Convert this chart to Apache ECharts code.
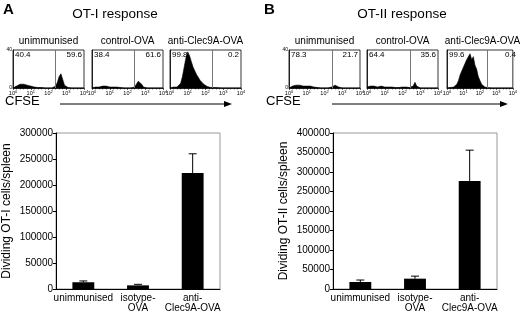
<!DOCTYPE html>
<html>
<head>
<meta charset="utf-8">
<script src="https://cdn.jsdelivr.net/npm/echarts@6/dist/echarts.min.js"></script>
<style>
  html, body { margin: 0; padding: 0; background: #fff; }
  #chart { width: 520px; height: 313px; }
</style>
</head>
<body>
<div id="chart"></div>
<script>
// bar charts
const groups = ['unimmunised', 'isotype-\nOVA', 'anti-\nClec9A-OVA']
const otiMean = [13000, 7000, 223000]
const otiErrTop = [15500, 9000, 260000]
const otiiMean = [18000, 26500, 277000]
const otiiErrTop = [23000, 33000, 356000]
const otiTicks = [0, 50000, 100000, 150000, 200000, 250000, 300000]
const otiiTicks = [0, 50000, 100000, 150000, 200000, 250000, 300000, 350000, 400000]

// CFSE histograms
const histTitles = ['unimmunised', 'control-OVA', 'anti-Clec9A-OVA']
const otiPctLeft = ['40.4', '38.4', '99.8']
const otiPctRight = ['59.6', '61.6', '0.2']
const otiiPctLeft = ['78.3', '64.4', '99.6']
const otiiPctRight = ['21.7', '35.6', '0.4']
const logTicks = [0, 1, 2, 3, 4]
const gateOti = 2.4
const gateOtii = 2.45
// event counts, one per 0.1 decade from 10^0 to 10^4
const histA1 = [0, 1, 2, 3, 4, 3, 4, 3, 3, 2, 2, 1, 1, 1, 0.5, 0.5, 0.5, 0, 0, 0, 0, 0, 0, 0.5, 2, 6, 12, 15, 9, 3, 1, 0.5, 0, 0, 0, 0, 0, 0, 0, 0, 0]
const histA2 = [0, 1, 1, 2, 1, 2, 2, 1, 2, 1, 1, 1, 1, 0.5, 1, 0.5, 0.5, 0, 0, 0, 0, 0, 0, 0.5, 1, 4, 7, 8, 4, 1, 0.5, 0, 0, 0, 0, 0, 0, 0, 0, 0, 0]
const histA3 = [0, 0.5, 1, 1, 1, 2, 5, 12, 22, 32, 38, 34, 28, 22, 18, 14, 11, 8, 6, 4, 2, 1.5, 1, 0.5, 0.5, 0.5, 0.3, 0.3, 0, 0, 0, 0, 0, 0, 0, 0, 0, 0, 0, 0, 0]
const histB1 = [0, 1, 2, 2, 3, 2, 3, 2, 2, 3, 2, 1, 2, 1, 1, 0.5, 0.5, 0, 0, 0, 0, 0, 0, 0.5, 1, 2, 3, 2, 1, 0.5, 0, 0, 0, 0, 0, 0, 0, 0, 0, 0, 0]
const histB2 = [1, 1, 2, 1, 2, 2, 1, 2, 2, 1, 1, 2, 1, 1, 1, 0.5, 0.5, 0.5, 0.5, 1, 1, 0.5, 1, 0.5, 0.5, 1, 2, 6, 2, 0.5, 0, 0, 0, 0, 0, 0, 0, 0, 0, 0, 0]
const histB3 = [0, 0.5, 0.5, 1, 1, 2, 4, 8, 14, 18, 22, 26, 30, 28, 36, 30, 33, 24, 20, 12, 8, 4, 2, 1, 0.5, 0.3, 0.3, 0, 0, 0, 0, 0, 0, 0, 0, 0, 0, 0, 0, 0, 0]

const font = 'Liberation Sans, Arial, sans-serif'

const histPanels = [
  { data: histA1, left: 13, gate: gateOti, pl: otiPctLeft[0], pr: otiPctRight[0], first: true },
  { data: histA2, left: 92, gate: gateOti, pl: otiPctLeft[1], pr: otiPctRight[1] },
  { data: histA3, left: 170, gate: gateOti, pl: otiPctLeft[2], pr: otiPctRight[2] },
  { data: histB1, left: 289, gate: gateOtii, pl: otiiPctLeft[0], pr: otiiPctRight[0], first: true },
  { data: histB2, left: 367, gate: gateOtii, pl: otiiPctLeft[1], pr: otiiPctRight[1] },
  { data: histB3, left: 447, gate: gateOtii, pl: otiiPctLeft[2], pr: otiiPctRight[2] }
]
const histTop = 50
const histW = 71
const histH = 38

const grids = []
const xAxes = []
const yAxes = []
const series = []
const graphics = []

histPanels.forEach((p, i) => {
  grids.push({
    left: p.left, top: histTop, width: histW, height: histH,
    show: true, borderColor: '#000', borderWidth: 0.8
  })
  xAxes.push({
    gridIndex: i, type: 'value', min: logTicks[0], max: logTicks[logTicks.length - 1], interval: 1,
    axisLine: { lineStyle: { color: '#000', width: 0.8 } },
    axisTick: { length: 2, lineStyle: { color: '#000', width: 0.6 } },
    minorTick: { show: true, splitNumber: 5, length: 1.5, lineStyle: { color: '#000', width: 0.5 } },
    splitLine: { show: false },
    axisLabel: {
      margin: 2, showMinLabel: true, showMaxLabel: true, hideOverlap: false,
      formatter: v => '{b|10}{s|' + v + '}',
      rich: {
        b: { fontSize: 5.5, fontFamily: font, color: '#000' },
        s: { fontSize: 4, fontFamily: font, color: '#000', verticalAlign: 'top', padding: [0, 0, 3, 0] }
      }
    }
  })
  yAxes.push({
    gridIndex: i, type: 'value', min: 0, max: 40, interval: 40,
    axisLine: { show: true, lineStyle: { color: '#000', width: 0.8 } },
    axisTick: { show: false },
    splitLine: { show: false },
    axisLabel: { show: !!p.first, fontSize: 5, margin: 1, color: '#000', fontFamily: font }
  })
  series.push({
    type: 'line', xAxisIndex: i, yAxisIndex: i,
    data: p.data.map((v, k) => [k / 10, v]),
    symbol: 'none', silent: true,
    lineStyle: { color: '#000', width: 0.6 },
    areaStyle: { color: '#000', opacity: 1 },
    markLine: {
      silent: true, symbol: 'none', label: { show: false },
      lineStyle: { color: '#777', width: 1, type: 'solid' },
      data: [{ xAxis: p.gate }]
    }
  })
  graphics.push(
    { type: 'text', x: p.left + histW / 2, y: 36,
      style: { text: histTitles[i % 3], fontSize: 10, fontFamily: font, fill: '#000', textAlign: 'center' } },
    { type: 'text', x: p.left + 2, y: histTop + 1,
      style: { text: p.pl, fontSize: 8, fontFamily: font, fill: '#000' } },
    { type: 'text', x: p.left + histW - 2, y: histTop + 1,
      style: { text: p.pr, fontSize: 8, fontFamily: font, fill: '#000', textAlign: 'right' } }
  )
})

const barPanels = [
  { left: 55, width: 165, mean: otiMean, err: otiErrTop, ticks: otiTicks, name: 'Dividing OT-I cells/spleen' },
  { left: 333, width: 164, mean: otiiMean, err: otiiErrTop, ticks: otiiTicks, name: 'Dividing OT-II cells/spleen' }
]

barPanels.forEach((p, j) => {
  const gi = 6 + j
  grids.push({
    left: p.left, top: 133, width: p.width, height: 156,
    show: true, borderColor: '#999', borderWidth: 1
  })
  xAxes.push({
    gridIndex: gi, type: 'category', data: groups,
    axisLine: { lineStyle: { color: '#000', width: 1 } },
    axisTick: { length: 3, lineStyle: { color: '#000' } },
    axisLabel: { interval: 0, fontSize: 10, lineHeight: 10, margin: 4, color: '#000', fontFamily: font }
  })
  yAxes.push({
    gridIndex: gi, type: 'value', min: p.ticks[0], max: p.ticks[p.ticks.length - 1],
    interval: p.ticks[1] - p.ticks[0],
    name: p.name, nameLocation: 'middle', nameGap: 43,
    nameTextStyle: { fontSize: 12, fontFamily: font, color: '#000' },
    axisLine: { show: true, lineStyle: { color: '#000', width: 1 } },
    axisTick: { show: true, length: 3, lineStyle: { color: '#000' } },
    splitLine: { show: false },
    axisLabel: { fontSize: 10, margin: 3, color: '#000', fontFamily: font, formatter: v => String(v) }
  })
  series.push({
    type: 'bar', xAxisIndex: gi, yAxisIndex: gi, data: p.mean,
    barWidth: '40%', itemStyle: { color: '#000' }, silent: true
  })
  series.push({
    type: 'custom', xAxisIndex: gi, yAxisIndex: gi, silent: true,
    data: p.mean.map((m, k) => [k, m, p.err[k]]),
    renderItem: (params, api) => {
      const base = api.coord([api.value(0), api.value(1)])
      const top = api.coord([api.value(0), api.value(2)])
      const st = { stroke: '#000', lineWidth: 1 }
      return {
        type: 'group',
        children: [
          { type: 'line', shape: { x1: base[0], y1: base[1], x2: top[0], y2: top[1] }, style: st },
          { type: 'line', shape: { x1: top[0] - 4, y1: top[1], x2: top[0] + 4, y2: top[1] }, style: st }
        ]
      }
    }
  })
})

// panel letters, titles, CFSE arrows
const headers = [
  { letter: 'A', lx: 3, title: 'OT-I response', tx: 115, ax1: 60, ax2: 232 },
  { letter: 'B', lx: 264, title: 'OT-II response', tx: 402, ax1: 332, ax2: 508 }
]
headers.forEach(h => {
  graphics.push(
    { type: 'text', x: h.lx, y: 2, style: { text: h.letter, fontSize: 15, fontWeight: 'bold', fontFamily: font, fill: '#000' } },
    { type: 'text', x: h.tx, y: 7, style: { text: h.title, fontSize: 13.5, fontFamily: font, fill: '#000', textAlign: 'center' } },
    { type: 'text', x: h.lx + 2, y: 95, style: { text: 'CFSE', fontSize: 13, fontFamily: font, fill: '#000' } },
    { type: 'line', shape: { x1: h.ax1, y1: 104, x2: h.ax2 - 6, y2: 104 }, style: { stroke: '#000', lineWidth: 1 } },
    { type: 'polygon', shape: { points: [[h.ax2 - 8, 101], [h.ax2, 104], [h.ax2 - 8, 107]] }, style: { fill: '#000' } }
  )
})

const chart = echarts.init(document.getElementById('chart'))
chart.setOption({
  animation: false,
  backgroundColor: '#fff',
  grid: grids,
  xAxis: xAxes,
  yAxis: yAxes,
  series: series,
  graphic: graphics
})
</script>
</body>
</html>
